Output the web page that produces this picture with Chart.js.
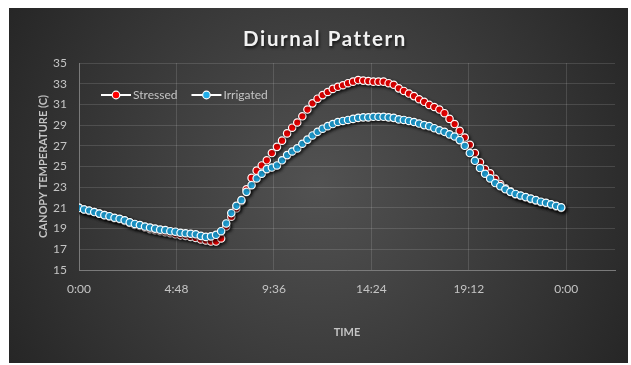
<!DOCTYPE html>
<html>
<head>
<meta charset="utf-8">
<title>Diurnal Pattern</title>
<script src="https://cdn.jsdelivr.net/npm/chart.js@4/dist/chart.umd.min.js"></script>
<style>
  html, body { margin: 0; padding: 0; background: #ffffff; }
  #c { display: block; }
</style>
</head>
<body>
<canvas id="c" width="631" height="365"></canvas>
<script>
// Canopy temperature readings, one every 15 minutes over a day
const times = [
  "0:00","0:15","0:30","0:45","1:00","1:15","1:30","1:45","2:00","2:15","2:30","2:45",
  "3:00","3:15","3:30","3:45","4:00","4:15","4:30","4:45","5:00","5:15","5:30","5:45",
  "6:00","6:15","6:30","6:45","7:00","7:15","7:30","7:45","8:00","8:15","8:30","8:45",
  "9:00","9:15","9:30","9:45","10:00","10:15","10:30","10:45","11:00","11:15","11:30","11:45",
  "12:00","12:15","12:30","12:45","13:00","13:15","13:30","13:45","14:00","14:15","14:30","14:45",
  "15:00","15:15","15:30","15:45","16:00","16:15","16:30","16:45","17:00","17:15","17:30","17:45",
  "18:00","18:15","18:30","18:45","19:00","19:15","19:30","19:45","20:00","20:15","20:30","20:45",
  "21:00","21:15","21:30","21:45","22:00","22:15","22:30","22:45","23:00","23:15","23:30","23:45"
];

const stressed = [
  21.0, 20.85, 20.7, 20.6, 20.45, 20.3, 20.15, 20.0, 19.9, 19.75,
  19.55, 19.35, 19.25, 19.1, 18.95, 18.85, 18.75, 18.65, 18.55, 18.45,
  18.35, 18.3, 18.2, 18.1, 17.95, 17.85, 17.75, 17.75, 18.05, 19.2,
  20.15, 20.95, 21.65, 22.8, 23.9, 24.6, 25.1, 25.6, 26.3, 26.9,
  27.5, 28.2, 28.75, 29.25, 29.85, 30.5, 31.1, 31.55, 31.9, 32.2,
  32.5, 32.7, 32.85, 33.05, 33.2, 33.35, 33.3, 33.25, 33.2, 33.2,
  33.2, 33.05, 32.9, 32.55, 32.3, 32.05, 31.8, 31.5, 31.25, 30.95,
  30.75, 30.5, 30.15, 29.6, 29.1, 28.45, 27.8, 27.1, 26.3, 25.4,
  24.75, 24.35, 23.8, 23.3, 22.9, 22.6, 22.3, 22.15, 22.0, 21.85,
  21.7, 21.55, 21.45, 21.3, 21.15, 21.0
];

const irrigated = [
  21.0, 20.85, 20.75, 20.6, 20.45, 20.3, 20.2, 20.05, 19.95, 19.8,
  19.6, 19.45, 19.35, 19.2, 19.1, 19.0, 18.9, 18.85, 18.75, 18.7,
  18.6, 18.55, 18.5, 18.45, 18.3, 18.2, 18.25, 18.4, 18.75, 19.5,
  20.5, 21.2, 21.75, 22.55, 23.2, 23.85, 24.3, 24.75, 24.9, 25.1,
  25.6, 26.1, 26.45, 26.75, 27.2, 27.6, 28.0, 28.35, 28.65, 28.9,
  29.1, 29.3, 29.4, 29.5, 29.6, 29.7, 29.75, 29.75, 29.8, 29.8,
  29.8, 29.75, 29.7, 29.55, 29.5, 29.4, 29.3, 29.15, 29.0, 28.9,
  28.7, 28.5, 28.35, 28.1, 27.9, 27.55, 27.0, 26.3, 25.55, 24.85,
  24.3, 23.85, 23.4, 23.1, 22.8, 22.55, 22.35, 22.2, 22.05, 21.9,
  21.75, 21.6, 21.5, 21.35, 21.2, 21.05
];

const xTickLabels = ["0:00", "4:48", "9:36", "14:24", "19:12", "0:00"];
const yMin = 15, yMax = 35, yStep = 2;

// time of day "h:mm" -> fraction of a day
function dayFraction(t) {
  const [h, m] = t.split(":").map(Number);
  return (h * 60 + m) / 1440;
}
function toPoints(values) {
  return values.map((v, i) => ({ x: dayFraction(times[i]), y: v }));
}

const TEXT = "#c4c4c4";
const GRID = "rgba(255,255,255,0.13)";
const FONT = "Lato, 'Open Sans', sans-serif";

const backgroundPlugin = {
  id: "panelBackground",
  beforeDraw(chart) {
    const ctx = chart.ctx;
    ctx.save();
    ctx.fillStyle = "#ffffff";
    ctx.fillRect(0, 0, chart.width, chart.height);
    const g = ctx.createRadialGradient(318, 185, 0, 318, 185, 390);
    g.addColorStop(0, "#525252");
    g.addColorStop(1, "#222222");
    ctx.fillStyle = g;
    ctx.fillRect(9, 8, 619, 355);
    ctx.restore();
  }
};

// soft drop shadow under the markers
const markerShadowPlugin = {
  id: "markerShadow",
  beforeDatasetsDraw(chart) {
    const ctx = chart.ctx;
    ctx.save();
    ctx.shadowColor = "rgba(0,0,0,0.65)";
    ctx.shadowBlur = 3;
    ctx.shadowOffsetX = 1.5;
    ctx.shadowOffsetY = 1.5;
  },
  afterDatasetsDraw(chart) {
    chart.ctx.restore();
  }
};

const titlePlugin = {
  id: "chartHeading",
  afterDraw(chart) {
    const ctx = chart.ctx;
    ctx.save();
    ctx.font = "bold 20.5px " + FONT;
    ctx.letterSpacing = "1.6px";
    ctx.fillStyle = "#f2f2f2";
    ctx.textAlign = "center";
    ctx.textBaseline = "middle";
    ctx.shadowColor = "rgba(0,0,0,0.7)";
    ctx.shadowBlur = 3;
    ctx.shadowOffsetX = 1;
    ctx.shadowOffsetY = 2;
    ctx.fillText("Diurnal Pattern", 325, 39);
    ctx.restore();
  }
};

// legend drawn inside the plot, line-with-marker style
const insideLegendPlugin = {
  id: "insideLegend",
  afterDraw(chart) {
    const ctx = chart.ctx;
    const area = chart.chartArea;
    const y = area.top + 32;
    let x = area.left + 22;
    ctx.save();
    ctx.font = "12px " + FONT;
    ctx.textBaseline = "middle";
    ctx.textAlign = "left";
    chart.data.datasets.forEach(ds => {
      ctx.strokeStyle = "#ffffff";
      ctx.lineWidth = 2;
      ctx.beginPath();
      ctx.moveTo(x, y);
      ctx.lineTo(x + 30, y);
      ctx.stroke();
      ctx.beginPath();
      ctx.arc(x + 15, y, 3.8, 0, Math.PI * 2);
      ctx.fillStyle = ds.backgroundColor;
      ctx.fill();
      ctx.lineWidth = 1.2;
      ctx.strokeStyle = "#ffffff";
      ctx.stroke();
      ctx.fillStyle = TEXT;
      ctx.fillText(ds.label, x + 32, y);
      x += 32 + ctx.measureText(ds.label).width + 14;
    });
    ctx.restore();
  }
};

new Chart(document.getElementById("c"), {
  type: "scatter",
  data: {
    datasets: [
      {
        label: "Stressed",
        data: toPoints(stressed),
        backgroundColor: "#ff0000",
        borderColor: "#ffffff",
        borderWidth: 1.2,
        pointRadius: 3.7,
        order: 1
      },
      {
        label: "Irrigated",
        data: toPoints(irrigated),
        backgroundColor: "#22aee8",
        borderColor: "#ffffff",
        borderWidth: 1.2,
        pointRadius: 3.7,
        order: 0
      }
    ]
  },
  options: {
    responsive: false,
    devicePixelRatio: 1,
    animation: false,
    layout: { padding: { left: 30, top: 63, right: 16, bottom: 22 } },
    plugins: {
      legend: { display: false },
      title: { display: false },
      tooltip: { enabled: false }
    },
    scales: {
      x: {
        type: "linear",
        min: 0,
        max: 1.1,
        afterFit(scale) { scale.height = 73; },
        ticks: {
          stepSize: 0.2,
          includeBounds: false,
          padding: 12,
          color: TEXT,
          font: { family: FONT, size: 12 },
          maxRotation: 0,
          callback: (value, index) => xTickLabels[index]
        },
        grid: { color: GRID, drawTicks: false },
        border: { color: "#7a7a7a" },
        title: {
          display: true,
          text: "TIME",
          color: TEXT,
          font: { family: FONT, size: 11, weight: "bold" },
          padding: { top: 4, bottom: 4 }
        }
      },
      y: {
        min: yMin,
        max: yMax,
        afterFit(scale) { scale.width = 49; },
        ticks: {
          stepSize: yStep,
          padding: 12,
          color: TEXT,
          font: { family: FONT, size: 12 }
        },
        grid: { color: GRID, drawTicks: false },
        border: { color: "#7a7a7a" },
        title: {
          display: true,
          text: "CANOPY TEMPERATURE (C)",
          color: TEXT,
          font: { family: FONT, size: 11, weight: "bold" },
          padding: { top: 7, bottom: 4 }
        }
      }
    }
  },
  plugins: [backgroundPlugin, markerShadowPlugin, titlePlugin, insideLegendPlugin]
});
</script>
</body>
</html>
